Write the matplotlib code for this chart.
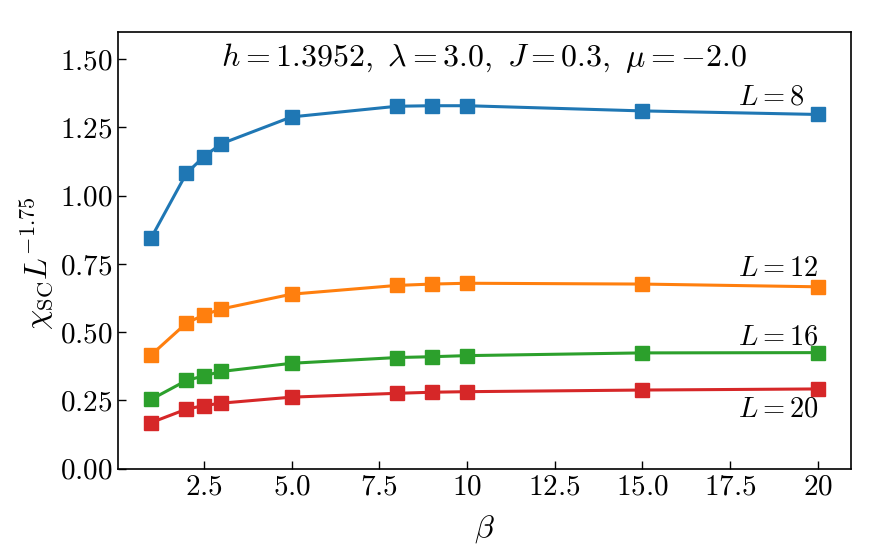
import matplotlib
matplotlib.use("Agg")
import matplotlib.pyplot as plt

plt.rcParams['mathtext.fontset'] = 'cm'
plt.rcParams['font.family'] = 'serif'
plt.rcParams['font.serif'] = ['cmr10', 'DejaVu Serif']
plt.rcParams['axes.formatter.use_mathtext'] = True

beta = [1, 2, 2.5, 3, 5, 8, 9, 10, 15, 20]
chi_L8 = [0.846, 1.081, 1.143, 1.190, 1.288, 1.327, 1.329, 1.329, 1.310, 1.297]
chi_L12 = [0.417, 0.533, 0.563, 0.585, 0.639, 0.671, 0.676, 0.679, 0.676, 0.666]
chi_L16 = [0.254, 0.323, 0.340, 0.356, 0.386, 0.407, 0.410, 0.414, 0.424, 0.425]
chi_L20 = [0.169, 0.218, 0.231, 0.240, 0.262, 0.276, 0.280, 0.282, 0.288, 0.292]
series = [("L=8", chi_L8), ("L=12", chi_L12), ("L=16", chi_L16), ("L=20", chi_L20)]
colors = ['#1f77b4', '#ff7f0e', '#2ca02c', '#d62728']
label_y = [1.36, 0.73, 0.48, 0.218]

xtick_vals = [2.5, 5.0, 7.5, 10, 12.5, 15.0, 17.5, 20]
xtick_labels = ["2.5", "5.0", "7.5", "10", "12.5", "15.0", "17.5", "20"]
ytick_vals = [0.0, 0.25, 0.5, 0.75, 1.0, 1.25, 1.5]
ytick_labels = ["0.00", "0.25", "0.50", "0.75", "1.00", "1.25", "1.50"]

fig = plt.figure(figsize=(8.72, 5.56), dpi=100)
ax = fig.add_axes([118/872, 1 - 468.7/556, (851-118)/872, (468.7-31.7)/556])

for (name, vals), c, ly in zip(series, colors, label_y):
    ax.plot(beta, vals, '-s', color=c, lw=2.2, ms=10.5)
    ax.text(17.72, ly, "$" + name + "$", fontsize=20.5, ha='left', va='center')

ax.set_ylim(0, 1.6)
ax.set_xticks(xtick_vals)
ax.set_xticklabels(["$" + t + "$" for t in xtick_labels])
ax.set_yticks(ytick_vals)
ax.set_yticklabels(["$" + t + "$" for t in ytick_labels])
ax.tick_params(direction='in', length=6, width=1, labelsize=21, pad=4)
for s in ax.spines.values():
    s.set_linewidth(1.2)

ax.text(0.5, 0.94, r"$h=1.3952,\ \lambda=3.0,\ J=0.3,\ \mu=-2.0$",
        transform=ax.transAxes, ha='center', va='center', fontsize=23)
ax.set_xlabel(r"$\beta$", fontsize=23, labelpad=9)
ax.set_ylabel(r"$\chi_{\mathrm{SC}}L^{-1.75}$", fontsize=23)
ax.yaxis.set_label_coords(-0.085, 0.47)

fig.savefig("out.png", dpi=100)
